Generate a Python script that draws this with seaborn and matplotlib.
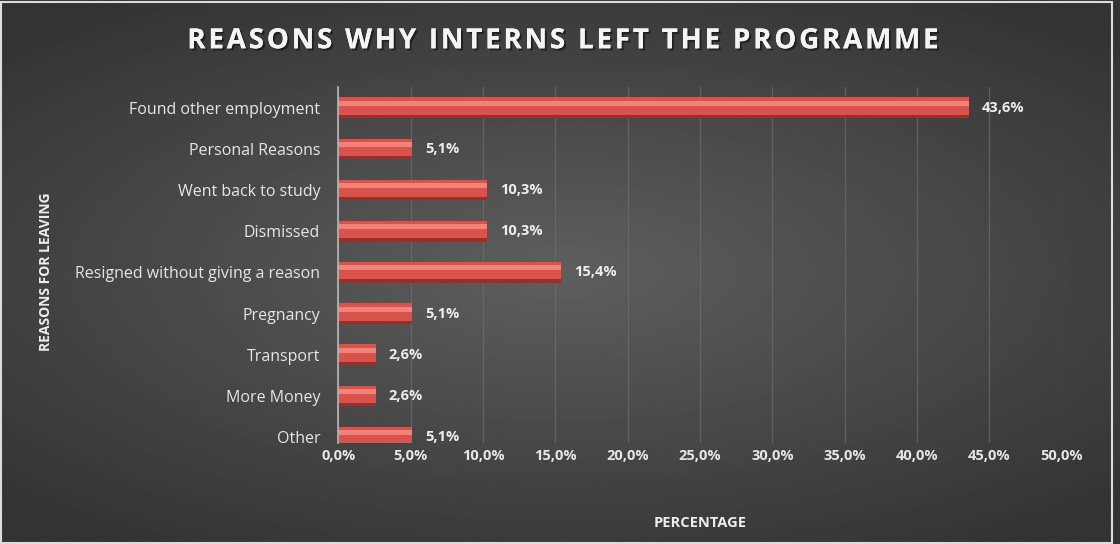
import numpy as np
import pandas as pd
import matplotlib
matplotlib.use("Agg")
import matplotlib.pyplot as plt
import matplotlib.patheffects as pe
from matplotlib.ticker import FuncFormatter
import seaborn as sns

# Survey results: share of interns leaving, by reason
reasons = [
    "Found other employment",
    "Personal Reasons",
    "Went back to study",
    "Dismissed",
    "Resigned without giving a reason",
    "Pregnancy",
    "Transport",
    "More Money",
    "Other",
]
percentages = [43.6, 5.1, 10.3, 10.3, 15.4, 5.1, 2.6, 2.6, 5.1]
x_ticks = [0, 5, 10, 15, 20, 25, 30, 35, 40, 45, 50]
title_text = "REASONS WHY INTERNS LEFT THE PROGRAMME"

df = pd.DataFrame({"reason": reasons, "pct": percentages})

sns.set_theme(style="dark")
plt.rcParams["font.family"] = ["Open Sans", "DejaVu Sans"]

fig = plt.figure(figsize=(11.2, 5.44), dpi=100)
fig.patch.set_facecolor("#444444")

# Radial grey backdrop
bg = fig.add_axes([0, 0, 1, 1], zorder=0)
yy, xx = np.mgrid[-1:1:300j, -1:1:600j]
r = np.sqrt((xx * 0.85) ** 2 + (yy * 1.0) ** 2)
shade = np.clip(0.37 - 0.14 * r, 0.2, 0.4)
bg.imshow(shade, cmap="gray", vmin=0, vmax=1, aspect="auto",
          extent=[0, 1, 0, 1], interpolation="bilinear")
bg.set_axis_off()
# thin light frame around the picture
bg.add_patch(plt.Rectangle((0.001, 0.002), 0.992, 0.994, fill=False,
                           edgecolor="#dcdcdc", linewidth=1.5,
                           transform=bg.transAxes))

ax = fig.add_axes([0.302, 0.185, 0.646, 0.655], zorder=1)
ax.set_facecolor("none")

n = len(reasons)
# Base bar (dark lower rim), main body, then a light upper highlight for a tube look
sns.barplot(data=df, y="reason", x="pct", orient="h", ax=ax,
            color="#9e2c27", width=0.50, saturation=1, edgecolor="none")
sns.barplot(data=df, y="reason", x="pct", orient="h", ax=ax,
            color="#d9534c", width=0.42, saturation=1, edgecolor="none")
for p in ax.patches[n:]:
    p.set_y(p.get_y() - 0.04)
sns.barplot(data=df, y="reason", x="pct", orient="h", ax=ax,
            color="#f2837b", width=0.12, saturation=1, edgecolor="none")
for p in ax.patches[2 * n:]:
    p.set_y(p.get_y() - 0.11)

ax.set_xlim(0, 50)
ax.set_ylim(n - 0.85, -0.5)
ax.set_xticks(x_ticks)
ax.xaxis.set_major_formatter(FuncFormatter(lambda v, _: f"{v:.1f}%".replace(".", ",")))

ax.grid(axis="x", color="#6e6e6e", linewidth=0.9, alpha=0.7)
ax.grid(axis="y", visible=False)
ax.set_axisbelow(True)
for side in ["top", "right", "bottom"]:
    ax.spines[side].set_visible(False)
ax.spines["left"].set_color("#b8b8b8")
ax.spines["left"].set_linewidth(1.2)

ax.tick_params(axis="x", colors="#e6e6e6", labelsize=10.5, length=0, pad=4)
ax.tick_params(axis="y", colors="#e6e6e6", labelsize=11.5, length=0, pad=13)
for lbl in ax.get_xticklabels():
    lbl.set_fontweight("bold")

# Value labels next to each bar
for i, v in enumerate(percentages):
    ax.text(v + 0.9, i, f"{v:.1f}%".replace(".", ","), va="center", ha="left",
            color="#eeeeee", fontsize=10.5, fontweight="bold")

ax.set_xlabel("PERCENTAGE", color="#eeeeee", fontsize=10.5, fontweight="bold",
              labelpad=38)
ax.set_ylabel("")
fig.text(0.041, 0.50, "REASONS FOR LEAVING", rotation=90, ha="center", va="center",
         color="#eeeeee", fontsize=10, fontweight="bold")

spaced_title = "\u200a".join(title_text).replace("\u200a \u200a", "\u200a\u200a ")
title = fig.text(0.502, 0.925, spaced_title,
                 ha="center", va="center", color="#f4f4f4", fontsize=20,
                 fontweight="bold")
title.set_path_effects([pe.withSimplePatchShadow(offset=(1.5, -1.5),
                                                 shadow_rgbFace="#1a1a1a", alpha=0.8),
                        pe.Normal()])

fig.savefig("out.png", dpi=100, facecolor=fig.get_facecolor())
